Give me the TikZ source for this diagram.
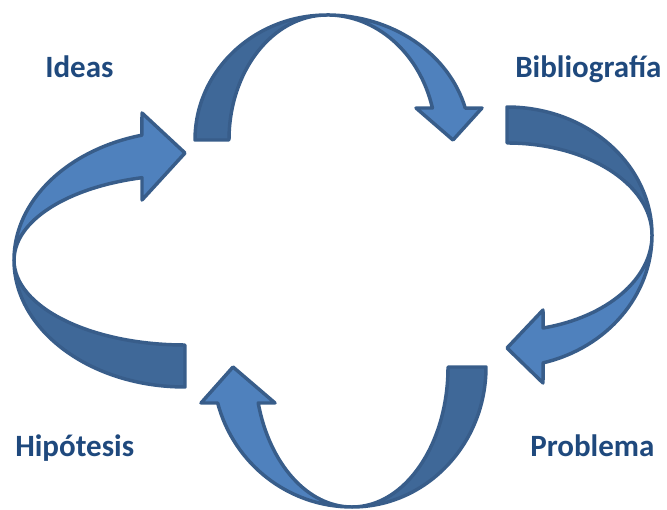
\documentclass[tikz,border=0pt]{standalone}
\usepackage{fontspec}
\setmainfont{Carlito}
\usepackage{tikz}

\definecolor{frontblue}{HTML}{4F81BD}
\definecolor{backblue}{HTML}{3F6898}
\definecolor{edgeblue}{HTML}{385D8A}
\definecolor{textblue}{HTML}{1F497D}

\begin{document}
\begin{tikzpicture}[x=0.75pt,y=0.75pt,
    front/.style={fill=frontblue,draw=edgeblue,line width=2.6pt,line join=round},
    back/.style={fill=backblue,draw=edgeblue,line width=2.6pt,line join=round},
    label/.style={text=textblue,font=\fontsize{23.25}{28}\selectfont\bfseries,inner sep=0pt,anchor=base west}]
    \useasboundingbox (0,0) rectangle (667,510);

    % Top arrow (Ideas -> Bibliografia)
    \draw[back] (195,370) arc[start angle=180,end angle=90,x radius=132,y radius=125]
        arc[start angle=90,end angle=180,x radius=98,y radius=125] -- cycle;
    \draw[front] (327,495) arc[start angle=90,end angle=14.8,x radius=143,y radius=125]
        -- (482,402) -- (453,370) -- (416,402) -- (432.4,402)
        arc[start angle=14.8,end angle=90,x radius=109,y radius=125] -- cycle;

    % Right arrow (Bibliografia -> Problema)
    \draw[back] (507,403) arc[start angle=90,end angle=0,x radius=145,y radius=128]
        arc[start angle=0,end angle=90,x radius=145,y radius=92] -- cycle;
    \draw[front] (652,275) arc[start angle=0,end angle=-75.6,x radius=145,y radius=132]
        -- (543,127) -- (507,162) -- (543,200) -- (543.1,182)
        arc[start angle=-75.6,end angle=0,x radius=145,y radius=96] -- cycle;

    % Bottom arrow (Problema -> Hipotesis)
    \draw[back] (486,143) arc[start angle=0,end angle=-90,x radius=134,y radius=140]
        arc[start angle=-90,end angle=0,x radius=96,y radius=140] -- cycle;
    \draw[front] (352,3) arc[start angle=-90,end angle=-165.1,x radius=139,y radius=140]
        -- (201,107) -- (233,143) -- (275,107) -- (258.2,107)
        arc[start angle=-165.1,end angle=-90,x radius=97,y radius=140] -- cycle;

    % Left arrow (Hipotesis -> Ideas)
    \draw[back] (185,123) arc[start angle=-90,end angle=-180,x radius=171,y radius=127]
        arc[start angle=-180,end angle=-90,x radius=171,y radius=85] -- cycle;
    \draw[front] (14,250) arc[start angle=180,end angle=104.6,x radius=171,y radius=129]
        -- (142,397) -- (185,357) -- (142,310) -- (142,332.3)
        arc[start angle=104.6,end angle=180,x radius=171,y radius=85] -- cycle;

    % Labels
    \node[label] (ideas) at (45,432) {Ideas};
    \node[label] (biblio) at (515,432) {Bibliografía};
    \node[label] (hipo) at (15,53) {Hipótesis};
    \node[label] (prob) at (530,53) {Problema};
\end{tikzpicture}
\end{document}
